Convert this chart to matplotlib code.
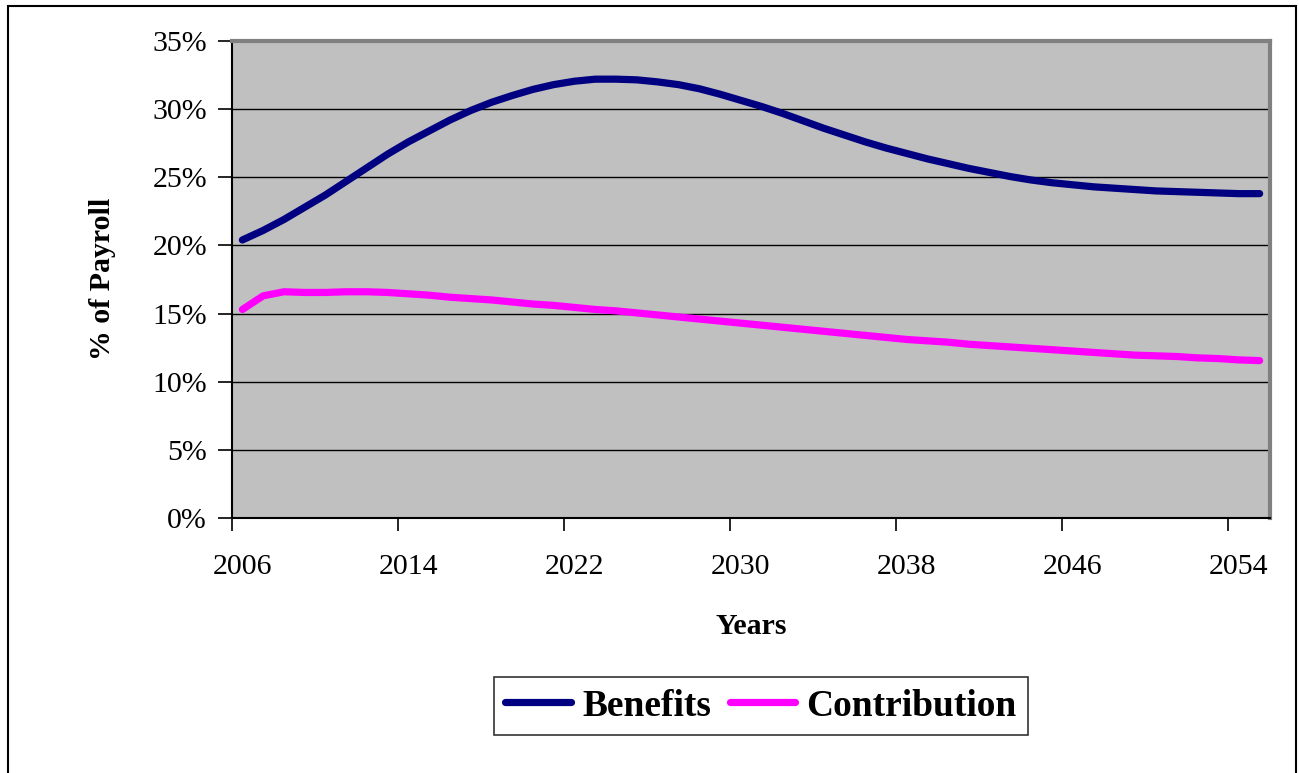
import matplotlib.pyplot as plt
from matplotlib.patches import Rectangle

plt.rcParams['font.family'] = ['Liberation Serif', 'DejaVu Serif']

# years 2006..2055, values in % of payroll
years = list(range(2006, 2056))
benefits = [20.4, 21.1, 21.9, 22.8, 23.7, 24.7, 25.7, 26.7, 27.6, 28.4,
            29.2, 29.9, 30.5, 31.0, 31.45, 31.8, 32.05, 32.2, 32.2, 32.15,
            32.0, 31.8, 31.5, 31.1, 30.65, 30.2, 29.7, 29.15, 28.6, 28.1,
            27.6, 27.15, 26.75, 26.35, 26.0, 25.65, 25.35, 25.05, 24.8, 24.6,
            24.45, 24.3, 24.2, 24.1, 24.0, 23.95, 23.9, 23.85, 23.8, 23.8]
contribution = [15.3, 16.3, 16.6, 16.55, 16.55, 16.6, 16.6, 16.55, 16.45, 16.35,
                16.2, 16.1, 16.0, 15.85, 15.7, 15.6, 15.45, 15.3, 15.2, 15.05,
                14.9, 14.75, 14.6, 14.45, 14.3, 14.15, 14.0, 13.85, 13.7, 13.55,
                13.4, 13.25, 13.1, 13.0, 12.9, 12.75, 12.65, 12.55, 12.45, 12.35,
                12.25, 12.15, 12.05, 11.95, 11.9, 11.85, 11.75, 11.7, 11.6, 11.55]
y_ticks = [0, 5, 10, 15, 20, 25, 30, 35]

W, H = 1299, 773
fig = plt.figure(figsize=(W / 100, H / 100), dpi=100)

# outer chart frame
fig.patches.append(Rectangle((8 / W, -0.05), (1296 - 8) / W, 1.05 - 6 / H,
                             transform=fig.transFigure, fill=False,
                             edgecolor='black', linewidth=1.5))

ax = fig.add_axes([232 / W, 1 - 518 / H, 1038 / W, 477 / H])
ax.set_facecolor('#C0C0C0')

x = list(range(len(years)))
ax.plot(x, benefits, color='#000080', linewidth=5.2, solid_capstyle='round',
        label='Benefits', zorder=3)
ax.plot(x, contribution, color='#FF00FF', linewidth=5.2, solid_capstyle='round',
        label='Contribution', zorder=3)

ax.set_xlim(-0.5, len(years) - 0.5)
ax.set_ylim(0, 35)

# y axis
ax.set_yticks(y_ticks)
ax.set_yticklabels([f'{v}%' for v in y_ticks], fontsize=21.5)
ax.tick_params(axis='y', length=10, width=1.2, pad=8, direction='out')
ax.grid(axis='y', color='black', linewidth=1.0)
ax.set_axisbelow(True)

# x axis: ticks between categories, labels on every 8th year
ax.set_xticks([i - 0.5 for i in range(0, len(years), 8)])
ax.set_xticklabels([])
ax.set_xticks(list(range(0, len(years), 8)), minor=True)
ax.set_xticklabels([str(years[i]) for i in range(0, len(years), 8)],
                   minor=True, fontsize=21.5)
ax.tick_params(axis='x', which='major', length=9, width=1.2, direction='out')
ax.tick_params(axis='x', which='minor', length=0, pad=26)

for side in ['top', 'right']:
    ax.spines[side].set_color('#808080')
    ax.spines[side].set_linewidth(3)
ax.spines['left'].set_color('black')
ax.spines['bottom'].set_color('black')
ax.spines['left'].set_linewidth(1.5)
ax.spines['bottom'].set_linewidth(1.5)

fig.text(751 / W, 1 - 626 / H, 'Years', fontsize=21.5, fontweight='bold',
         ha='center', va='center')
fig.text(103 / W, 1 - 279 / H, '% of Payroll', fontsize=21.5, fontweight='bold',
         rotation=90, ha='center', va='center')

leg = fig.legend(loc='center', bbox_to_anchor=(761 / W, 1 - 706 / H), ncol=2,
                 prop={'size': 27, 'weight': 'bold'}, frameon=True,
                 fancybox=False, edgecolor='black', handlelength=1.75,
                 handletextpad=0.3, columnspacing=0.5, borderpad=0.3,
                 borderaxespad=0)
leg.get_frame().set_linewidth(1.2)

fig.savefig('out.png', dpi=100)
